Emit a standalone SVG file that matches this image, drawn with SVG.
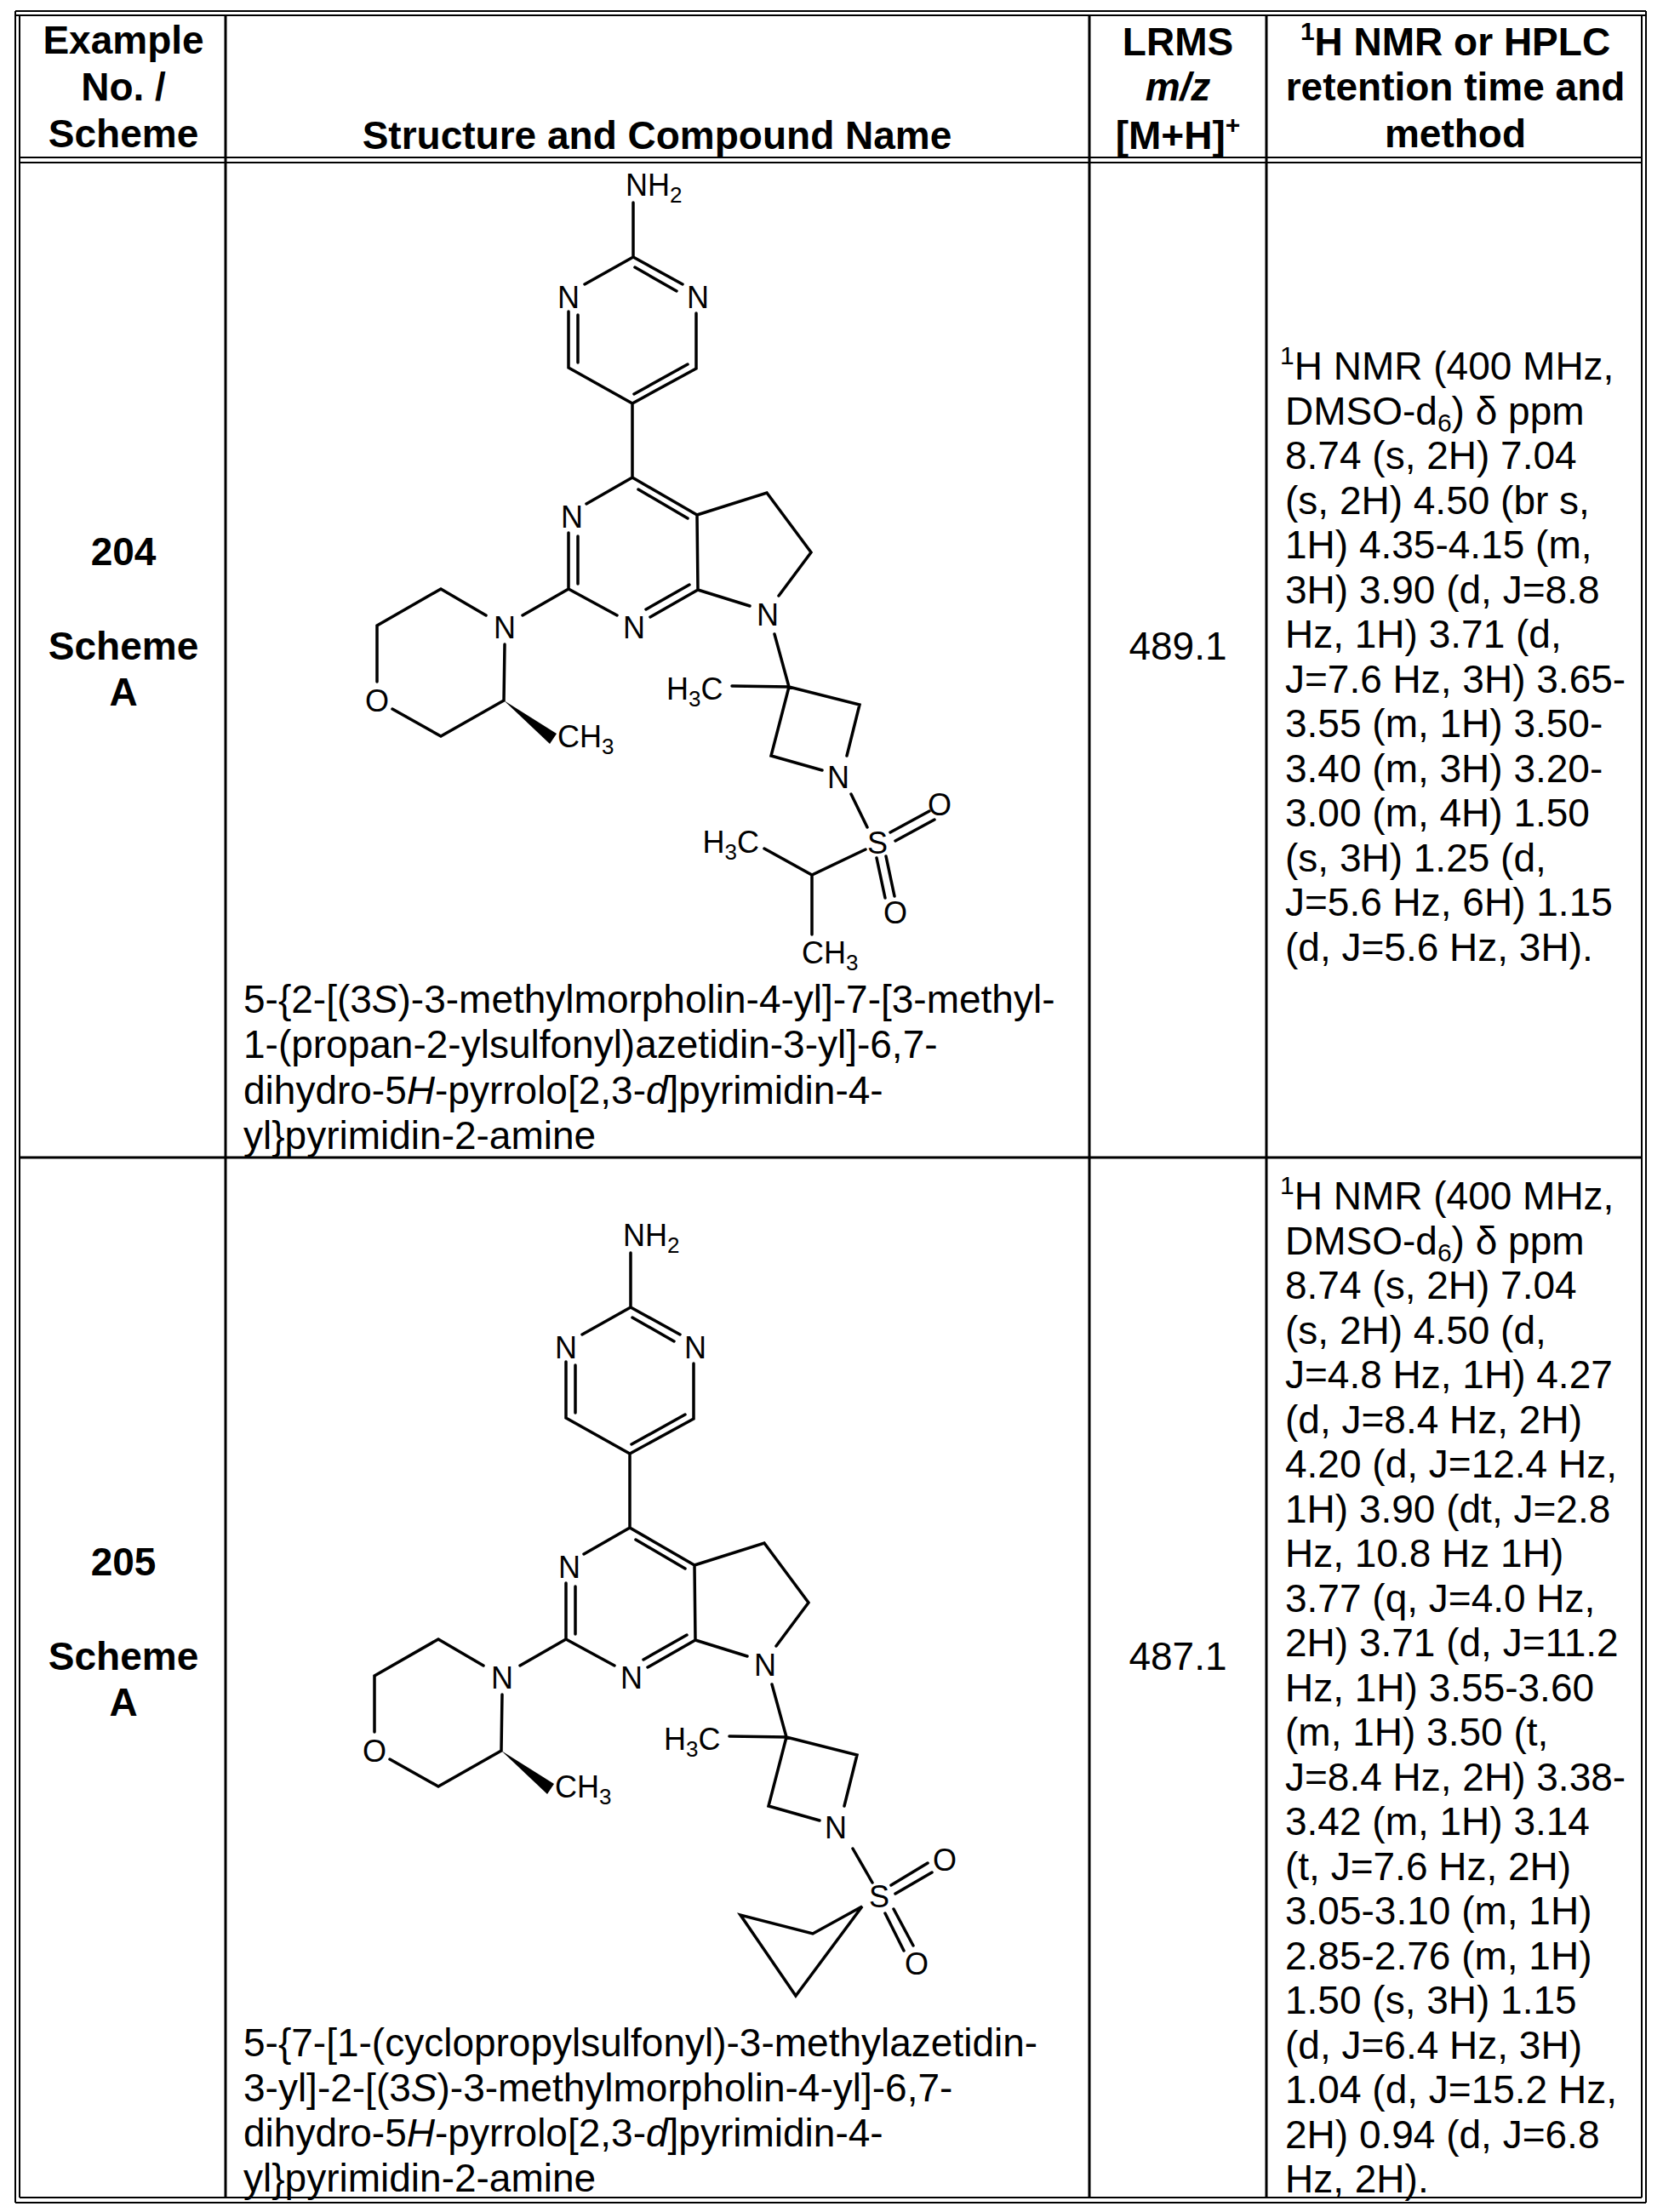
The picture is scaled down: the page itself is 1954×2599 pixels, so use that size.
<svg xmlns="http://www.w3.org/2000/svg" width="1954" height="2599" viewBox="0 0 1954 2599">
<style>
.t{font-family:"Liberation Sans",Arial,sans-serif;font-size:46px;fill:#000}
.b{font-weight:bold}
.c{text-anchor:middle}
.a{font-family:"Liberation Sans",Arial,sans-serif;font-size:36px;fill:#000}
.bd{stroke:#000;stroke-width:3.5;fill:none;stroke-linecap:round}
.tl{stroke:#000;stroke-width:3;fill:none}
.tl2{stroke:#000;stroke-width:2;fill:none}
</style>
<defs>
<g id="core">
<text class="a" x="735" y="230">NH<tspan font-size="26" dy="8">2</tspan></text>
<path class="bd" d="M744,238L744,302L687,334M744,302L802,334M746,314L795,342M668,366L668,432L743,474L818,433L818,368M679,370L679,426M745,463L808,428M743,474L743,561L689,592M668,626L668,692L725,723M679,630L679,686M764,725L820,693M759,716L810,687M820,693L819,605L743,561M750,575L808,609M819,605L901,579L953,649L915,700M820,693L881,712M668,692L614,723M571,723L518,692L443,735L443,801M461,833L518,865L592,823L593,757M910,745L927,807M860,806L927,807L1010,828L995,888M927,807L906,888L966,905"/>
<polygon points="592,823 654,862 646,874" fill="#000"/>
<text class="a c" x="668" y="362">N</text>
<text class="a c" x="820" y="362">N</text>
<text class="a c" x="672" y="620">N</text>
<text class="a c" x="745" y="750">N</text>
<text class="a c" x="902" y="735">N</text>
<text class="a c" x="593" y="750">N</text>
<text class="a c" x="443" y="836">O</text>
<text class="a" x="655" y="878">CH<tspan font-size="26" dy="8">3</tspan></text>
<text class="a" x="783" y="822">H<tspan font-size="26" dy="8">3</tspan><tspan dy="-8">C</tspan></text>
<text class="a c" x="985" y="926">N</text>
</g>
</defs>
<g id="table">
<path class="tl2" d="M18,13L1934,13M18,18L1934,18M18,13L18,2588M23,18L23,2582M1934,13L1934,2588M1929,18L1929,2582M18,2588L1934,2588M23,2582L1929,2582M23,185L1929,185M23,191L1929,191"/>
<path class="tl" d="M265,18L265,2582M1280,18L1280,2582M1488,18L1488,2582M23,1360L1929,1360"/>
</g>
<g id="header">
<text class="t b c" x="145" y="63">Example</text>
<text class="t b c" x="145" y="118">No. /</text>
<text class="t b c" x="145" y="173">Scheme</text>
<text class="t b c" x="772" y="175">Structure and Compound Name</text>
<text class="t b c" x="1384" y="65">LRMS</text>
<text class="t b c" x="1384" y="118" font-style="italic">m/z</text>
<text class="t b c" x="1384" y="175">[M+H]<tspan font-size="30" dy="-18">+</tspan></text>
<text class="t b c" x="1710" y="65"><tspan font-size="30" dy="-18">1</tspan><tspan dy="18">H NMR or HPLC</tspan></text>
<text class="t b c" x="1710" y="118">retention time and</text>
<text class="t b c" x="1710" y="173">method</text>
</g>
<g id="row204">
<text class="t b c" x="145" y="664">204</text>
<text class="t b c" x="145" y="775">Scheme</text>
<text class="t b c" x="145" y="829">A</text>
<text class="t c" x="1384" y="775">489.1</text>
<g id="mol204">
<use href="#core"/>
<path class="bd" d="M1000,933L1019,972M1046,978L1092,953M1052,988L1098,963M1030,1008L1040,1055M1041,1006L1051,1053M1017,998L954,1028L898,997M954,1028L954,1098"/>
<text class="a c" x="1031" y="1003">S</text>
<text class="a c" x="1104" y="958">O</text>
<text class="a c" x="1052" y="1085">O</text>
<text class="a" x="892" y="1002" text-anchor="end">H<tspan font-size="26" dy="8">3</tspan><tspan dy="-8">C</tspan></text>
<text class="a" x="942" y="1132">CH<tspan font-size="26" dy="8">3</tspan></text>
</g>
<text class="t" x="286" y="1190">5-{2-[(3<tspan font-style="italic">S</tspan>)-3-methylmorpholin-4-yl]-7-[3-methyl-</text>
<text class="t" x="286" y="1243">1-(propan-2-ylsulfonyl)azetidin-3-yl]-6,7-</text>
<text class="t" x="286" y="1297">dihydro-5<tspan font-style="italic">H</tspan>-pyrrolo[2,3-<tspan font-style="italic">d</tspan>]pyrimidin-4-</text>
<text class="t" x="286" y="1350">yl}pyrimidin-2-amine</text>
<g class="t">
<text x="1504" y="446"><tspan font-size="30" dy="-18">1</tspan><tspan dy="18">H NMR (400 MHz,</tspan></text>
<text x="1510" y="498.5">DMSO-d<tspan font-size="30" dy="8">6</tspan><tspan dy="-8">) δ ppm</tspan></text>
<text x="1510" y="551">8.74 (s, 2H) 7.04</text>
<text x="1510" y="603.5">(s, 2H) 4.50 (br s,</text>
<text x="1510" y="656">1H) 4.35-4.15 (m,</text>
<text x="1510" y="708.5">3H) 3.90 (d, J=8.8</text>
<text x="1510" y="761">Hz, 1H) 3.71 (d,</text>
<text x="1510" y="813.5">J=7.6 Hz, 3H) 3.65-</text>
<text x="1510" y="866">3.55 (m, 1H) 3.50-</text>
<text x="1510" y="918.5">3.40 (m, 3H) 3.20-</text>
<text x="1510" y="971">3.00 (m, 4H) 1.50</text>
<text x="1510" y="1023.5">(s, 3H) 1.25 (d,</text>
<text x="1510" y="1076">J=5.6 Hz, 6H) 1.15</text>
<text x="1510" y="1128.5">(d, J=5.6 Hz, 3H).</text>
</g>
</g>
<g id="row205">
<text class="t b c" x="145" y="1851">205</text>
<text class="t b c" x="145" y="1962">Scheme</text>
<text class="t b c" x="145" y="2016">A</text>
<text class="t c" x="1384" y="1962">487.1</text>
<g id="mol205">
<use href="#core" transform="translate(-3,1234)"/>
<path class="bd" d="M1002,2172L1025,2212M1047,2215L1090,2189M1052,2225L1095,2200M1040,2248L1062,2292M1050,2243L1073,2286M1013,2240L955,2272L870,2250L935,2345Z"/>
<text class="a c" x="1033" y="2241">S</text>
<text class="a c" x="1110" y="2198">O</text>
<text class="a c" x="1077" y="2320">O</text>
</g>
<text class="t" x="286" y="2416">5-{7-[1-(cyclopropylsulfonyl)-3-methylazetidin-</text>
<text class="t" x="286" y="2469">3-yl]-2-[(3<tspan font-style="italic">S</tspan>)-3-methylmorpholin-4-yl]-6,7-</text>
<text class="t" x="286" y="2522">dihydro-5<tspan font-style="italic">H</tspan>-pyrrolo[2,3-<tspan font-style="italic">d</tspan>]pyrimidin-4-</text>
<text class="t" x="286" y="2575">yl}pyrimidin-2-amine</text>
<g class="t">
<text x="1504" y="1421"><tspan font-size="30" dy="-18">1</tspan><tspan dy="18">H NMR (400 MHz,</tspan></text>
<text x="1510" y="1473.5">DMSO-d<tspan font-size="30" dy="8">6</tspan><tspan dy="-8">) δ ppm</tspan></text>
<text x="1510" y="1526">8.74 (s, 2H) 7.04</text>
<text x="1510" y="1578.5">(s, 2H) 4.50 (d,</text>
<text x="1510" y="1631">J=4.8 Hz, 1H) 4.27</text>
<text x="1510" y="1683.5">(d, J=8.4 Hz, 2H)</text>
<text x="1510" y="1736">4.20 (d, J=12.4 Hz,</text>
<text x="1510" y="1788.5">1H) 3.90 (dt, J=2.8</text>
<text x="1510" y="1841">Hz, 10.8 Hz 1H)</text>
<text x="1510" y="1893.5">3.77 (q, J=4.0 Hz,</text>
<text x="1510" y="1946">2H) 3.71 (d, J=11.2</text>
<text x="1510" y="1998.5">Hz, 1H) 3.55-3.60</text>
<text x="1510" y="2051">(m, 1H) 3.50 (t,</text>
<text x="1510" y="2103.5">J=8.4 Hz, 2H) 3.38-</text>
<text x="1510" y="2156">3.42 (m, 1H) 3.14</text>
<text x="1510" y="2208.5">(t, J=7.6 Hz, 2H)</text>
<text x="1510" y="2261">3.05-3.10 (m, 1H)</text>
<text x="1510" y="2313.5">2.85-2.76 (m, 1H)</text>
<text x="1510" y="2366">1.50 (s, 3H) 1.15</text>
<text x="1510" y="2418.5">(d, J=6.4 Hz, 3H)</text>
<text x="1510" y="2471">1.04 (d, J=15.2 Hz,</text>
<text x="1510" y="2523.5">2H) 0.94 (d, J=6.8</text>
<text x="1510" y="2576">Hz, 2H).</text>
</g>
</g>
</svg>
